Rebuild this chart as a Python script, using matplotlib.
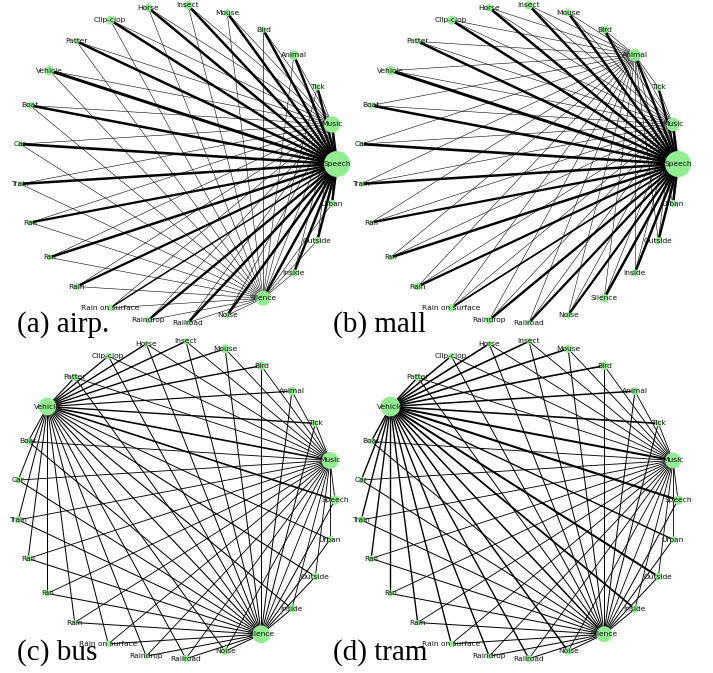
import numpy as np
import matplotlib
matplotlib.use("Agg")
import matplotlib.pyplot as plt
from matplotlib.collections import LineCollection

# ---------------- data ----------------
NODES = ["Speech", "Music", "Tick", "Animal", "Bird", "Mouse", "Insect", "Horse",
         "Clip-clop", "Patter", "Vehicle", "Boat", "Car", "Train", "Rail", "Fan",
         "Rain", "Rain on surface", "Raindrop", "Railroad", "Noise", "Silence",
         "Inside", "Outside", "Urban"]

TITLES = ["(a) airp.", "(b) mall", "(c) bus", "(d) tram"]

# node frequencies (relative) per scene
freq_airp = [1.0, 0.40, 0.06, 0.14, 0.06, 0.08, 0.11, 0.09, 0.11, 0.05, 0.13, 0.07,
             0.04, 0.04, 0.04, 0.05, 0.07, 0.07, 0.07, 0.04, 0.05, 0.34, 0.08, 0.08, 0.08]
freq_mall = [1.0, 0.27, 0.07, 0.24, 0.09, 0.08, 0.11, 0.09, 0.11, 0.06, 0.13, 0.06,
             0.04, 0.04, 0.04, 0.05, 0.08, 0.08, 0.08, 0.04, 0.06, 0.11, 0.07, 0.07, 0.08]
freq_bus = [0.13, 0.42, 0.07, 0.11, 0.11, 0.11, 0.06, 0.05, 0.06, 0.08, 0.47, 0.06,
            0.07, 0.08, 0.06, 0.06, 0.04, 0.06, 0.04, 0.08, 0.08, 0.47, 0.09, 0.08, 0.07]
freq_tram = [0.13, 0.37, 0.06, 0.09, 0.10, 0.10, 0.06, 0.05, 0.06, 0.07, 0.58, 0.06,
             0.06, 0.08, 0.06, 0.06, 0.04, 0.06, 0.04, 0.08, 0.08, 0.37, 0.08, 0.08, 0.07]

# co-occurrence weights of hub nodes with every node (order of NODES)
airp_speech = [0, 1.0, 0.95, 1.0, 1.0, 1.0, 1.0, 1.0, 1.0, 1.0, 1.2, 1.0, 1.05,
               1.0, 0.9, 1.0, 0.9, 0.6, 0.95, 1.0, 1.0, 1.0, 1.0, 1.0, 1.0]
airp_music = [1.0, 0, 0.22, 0.22, 0.22, 0.22, 0.22, 0.22, 0.22, 0.22, 0.22, 0.22, 0.22,
              0.22, 0.22, 0.22, 0.22, 0.22, 0.22, 0.22, 0.22, 0.22, 0.22, 0.22, 0.22]
airp_silence = [1.0, 0.22, 0.22, 0.22, 0.25, 0.22, 0.22, 0.22, 0.22, 0.22, 0.22, 0.22, 0.22,
                0.22, 0.22, 0.22, 0.22, 0.22, 0.22, 0.22, 0.22, 0, 0.22, 0.22, 0.22]

mall_speech = [0, 1.0, 0.95, 1.0, 1.0, 1.0, 1.0, 1.0, 1.0, 1.0, 1.2, 1.0, 1.05,
               1.0, 0.9, 1.0, 0.9, 0.7, 0.95, 0.9, 0.9, 1.0, 1.0, 1.0, 1.0]
mall_music = [1.0, 0, 0.22, 0.22, 0.22, 0.22, 0.22, 0.22, 0.22, 0.22, 0.22, 0.22, 0.22,
              0.22, 0.22, 0.22, 0.22, 0.22, 0.22, 0.22, 0.22, 0.22, 0.22, 0.22, 0.22]
mall_animal = [1.0, 0.22, 0.22, 0, 0.22, 0.22, 0.22, 0.22, 0.22, 0.22, 0.22, 0.22, 0.22,
               0.22, 0.22, 0.22, 0.22, 0.22, 0.22, 0.22, 0.22, 0.22, 0.22, 0.22, 0.22]

bus_vehicle = [0.65, 0.65, 0.55, 0.45, 0.55, 0.55, 0.55, 0.55, 0.5, 0.45, 0, 0.4, 0.4,
               0.4, 0.4, 0.4, 0.4, 0.4, 0.4, 0.4, 0.4, 0.45, 0.45, 0.45, 0.4]
bus_music = [0.35, 0, 0.35, 0.35, 0.35, 0.35, 0.35, 0.35, 0.35, 0.35, 0.65, 0.35, 0.35,
             0.35, 0.35, 0.35, 0.35, 0.35, 0.35, 0.35, 0.35, 0.35, 0.35, 0.35, 0.35]
bus_silence = [0.4, 0.4, 0.4, 0.4, 0.4, 0.4, 0.4, 0.4, 0.4, 0.4, 0.45, 0.4, 0.4,
               0.4, 0.4, 0.4, 0.4, 0.4, 0.4, 0.4, 0.4, 0, 0.4, 0.4, 0.4]

tram_vehicle = [0.85, 0.8, 0.65, 0.6, 0.65, 0.65, 0.65, 0.65, 0.6, 0.6, 0, 0.55, 0.55,
                0.55, 0.55, 0.55, 0.55, 0.55, 0.55, 0.55, 0.6, 0.6, 0.7, 0.8, 0.55]
tram_music = [0.35, 0, 0.35, 0.35, 0.35, 0.35, 0.35, 0.35, 0.35, 0.35, 0.8, 0.35, 0.35,
              0.35, 0.35, 0.35, 0.35, 0.35, 0.35, 0.35, 0.35, 0.35, 0.35, 0.35, 0.35]
tram_silence = [0.4, 0.4, 0.4, 0.4, 0.4, 0.4, 0.4, 0.4, 0.4, 0.4, 0.6, 0.4, 0.4,
                0.4, 0.4, 0.4, 0.4, 0.4, 0.4, 0.4, 0.4, 0, 0.4, 0.4, 0.4]

PANELS = [
    (TITLES[0], freq_airp, [("Speech", airp_speech), ("Music", airp_music), ("Silence", airp_silence)]),
    (TITLES[1], freq_mall, [("Speech", mall_speech), ("Music", mall_music), ("Animal", mall_animal)]),
    (TITLES[2], freq_bus, [("Vehicle", bus_vehicle), ("Music", bus_music), ("Silence", bus_silence)]),
    (TITLES[3], freq_tram, [("Vehicle", tram_vehicle), ("Music", tram_music), ("Silence", tram_silence)]),
]

# ---------------- layout ----------------
W, H = 713, 673
fig = plt.figure(figsize=(W / 100, H / 100), dpi=100)
fig.patch.set_facecolor("white")

R = 159.0                       # circle radius in pixels
centers = [(178, 164), (519, 164), (176, 500), (519, 500)]
title_pos = [(17, 332), (333, 332), (17, 660), (333, 660)]
AW, AH = 340, 328
WIDTH_SCALE = 1.8

n = len(NODES)
ang = 2 * np.pi * np.arange(n) / n
pos = np.column_stack([np.cos(ang), np.sin(ang)])
idx = {name: i for i, name in enumerate(NODES)}

for (title, freq, hubs), (cx, cy), (tx, ty) in zip(PANELS, centers, title_pos):
    ax = fig.add_axes([(cx - AW / 2) / W, (H - cy - AH / 2) / H, AW / W, AH / H])
    ax.set_xlim(-AW / 2 / R, AW / 2 / R)
    ax.set_ylim(-AH / 2 / R, AH / 2 / R)
    ax.axis("off")

    segs, widths = [], []
    seen = set()
    for hub, wts in hubs:
        h = idx[hub]
        for j, w in enumerate(wts):
            if w <= 0 or j == h:
                continue
            key = tuple(sorted((h, j)))
            if key in seen:
                continue
            seen.add(key)
            segs.append([pos[h], pos[j]])
            widths.append(w * WIDTH_SCALE)
    lc = LineCollection(segs, colors="black", linewidths=widths, zorder=1)
    ax.add_collection(lc)

    ax.scatter(pos[:, 0], pos[:, 1], s=np.array(freq) * 350, color="#90ee90",
               edgecolors="none", zorder=2, clip_on=False)
    for i, name in enumerate(NODES):
        ax.text(pos[i, 0], pos[i, 1], name, fontsize=5.4, ha="center", va="center",
                family="DejaVu Sans", color="#111111", zorder=3)

    fig.text(tx / W, (H - ty) / H, title, fontsize=21, family="Liberation Serif",
             ha="left", va="baseline", color="black")

fig.savefig("out.png", dpi=100, facecolor="white")
